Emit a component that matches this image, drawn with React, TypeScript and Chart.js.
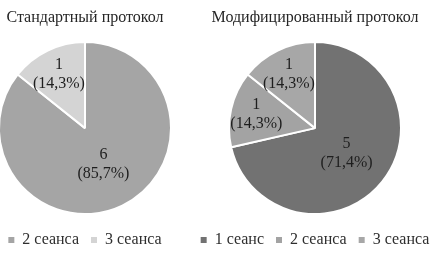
import React, { useEffect, useRef } from "react";
import { Chart, registerables } from "chart.js";

Chart.register(...registerables);

const standardTitle = "Стандартный протокол";
const standardLabels = ["2 сеанса", "3 сеанса"];
const standardValues = [6, 1];
const standardColors = ["#a5a5a5", "#d4d4d4"];

const modifiedTitle = "Модифицированный протокол";
const modifiedLabels = ["1 сеанс", "2 сеанса", "3 сеанса"];
const modifiedValues = [5, 1, 1];
const modifiedColors = ["#727272", "#a3a3a3", "#a7a7a7"];

const FONT = "'Liberation Serif', 'Times New Roman', serif";

const sliceLabelPlugin = {
  id: "sliceLabels",
  afterDatasetsDraw(chart: any) {
    const ctx = chart.ctx;
    const ds = chart.data.datasets[0];
    const values: number[] = ds.data;
    const total = values.reduce((a, b) => a + b, 0);
    const meta = chart.getDatasetMeta(0);
    ctx.save();
    ctx.fillStyle = "#1e1e1e";
    ctx.font = `16px ${FONT}`;
    ctx.textAlign = "center";
    ctx.textBaseline = "middle";
    meta.data.forEach((arc: any, i: number) => {
      const p = arc.getProps(["x", "y", "startAngle", "endAngle", "outerRadius"], true);
      const mid = (p.startAngle + p.endAngle) / 2;
      const share = values[i] / total;
      const frac = share > 0.5 ? 0.44 : 0.7;
      const r = p.outerRadius * frac;
      const cx = p.x + Math.cos(mid) * r + (share > 0.5 ? 2 : 0);
      const cy = p.y + Math.sin(mid) * r + (share > 0.5 ? 2 : 0);
      const pct = (share * 100).toFixed(1).replace(".", ",");
      ctx.fillText(String(values[i]), cx, cy - 9.5);
      ctx.fillText(`(${pct}%)`, cx, cy + 9.5);
    });
    ctx.restore();
  },
};

function PieChart(props: {
  title: string;
  labels: string[];
  values: number[];
  colors: string[];
  width: number;
  left: number;
}) {
  const ref = useRef<HTMLCanvasElement | null>(null);
  useEffect(() => {
    if (!ref.current) return;
    const chart = new Chart(ref.current, {
      type: "pie",
      data: {
        labels: props.labels,
        datasets: [
          {
            data: props.values,
            backgroundColor: props.colors,
            borderColor: "#ffffff",
            borderWidth: 2,
            radius: 86,
          },
        ],
      },
      options: {
        responsive: false,
        animation: false,
        layout: { padding: { top: 0, bottom: 1, left: 0, right: 0 } },
        plugins: {
          title: {
            display: true,
            text: props.title,
            color: "#262626",
            font: { family: FONT, size: 16, weight: "normal" },
            padding: { top: 8.5, bottom: 8.5 },
          },
          legend: {
            display: true,
            position: "bottom",
            labels: {
              boxWidth: 6,
              boxHeight: 6,
              padding: 12,
              color: "#2e2e2e",
              font: { family: FONT, size: 16 },
              generateLabels: (c: any) =>
                (Chart as any).overrides.pie.plugins.legend.labels
                  .generateLabels(c)
                  .map((l: any) => ({ ...l, lineWidth: 0, strokeStyle: "rgba(0,0,0,0)" })),
            },
          },
          tooltip: { enabled: false },
        },
      } as any,
      plugins: [sliceLabelPlugin],
    });
    return () => chart.destroy();
  }, []);
  return (
    <div style={{ position: "absolute", left: props.left, top: 0, width: props.width, height: 259 }}>
      <canvas ref={ref} width={props.width} height={259} style={{ display: "block" }} />
    </div>
  );
}

export default function App() {
  return (
    <div
      style={{
        position: "fixed",
        left: 0,
        top: 0,
        width: 436,
        height: 259,
        background: "#ffffff",
        overflow: "hidden",
      }}
    >
      <PieChart
        title={standardTitle}
        labels={standardLabels}
        values={standardValues}
        colors={standardColors}
        width={210}
        left={-20}
      />
      <PieChart
        title={modifiedTitle}
        labels={modifiedLabels}
        values={modifiedValues}
        colors={modifiedColors}
        width={320}
        left={155}
      />
    </div>
  );
}
